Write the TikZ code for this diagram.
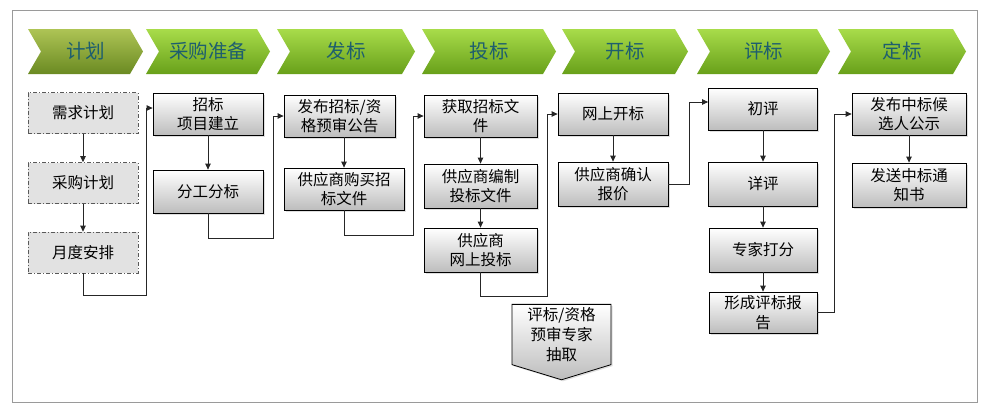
\documentclass[tikz,border=0pt]{standalone}
\usepackage{fontspec}
\newfontfamily\cjk{Noto Sans CJK SC}
\usetikzlibrary{arrows.meta, shapes.symbols, shadows}
\definecolor{stagetop}{HTML}{A8DC4A}
\definecolor{stagemid}{HTML}{8CCB2E}
\definecolor{stagebot}{HTML}{68A01A}
\definecolor{olivetop}{HTML}{AEC455}
\definecolor{olivemid}{HTML}{93AE3C}
\definecolor{olivebot}{HTML}{6A8A22}
\definecolor{stagetext}{HTML}{1E5E6E}
\definecolor{boxbot}{HTML}{BDBDBD}
\definecolor{dashfill}{HTML}{E2E2E2}
\definecolor{framecol}{HTML}{9A9A9A}

\begin{document}
\begin{tikzpicture}[x=1pt, y=-1pt,
stage/.style={signal, signal from=west, signal to=east, signal pointer angle=120, inner sep=0pt, minimum height=45pt, top color=stagetop, middle color=stagemid, bottom color=stagebot, text=stagetext, font=\cjk\fontsize{19.5}{22}\selectfont},
firststage/.style={top color=olivetop, middle color=olivemid, bottom color=olivebot},
box/.style={rectangle, draw=black, line width=0.8pt, top color=white, bottom color=boxbot, inner sep=1pt, align=center, font=\cjk\fontsize{15.5}{19.5}\selectfont, drop shadow={shadow xshift=1.5pt, shadow yshift=-1.5pt, opacity=0.25}},
planbox/.style={rectangle, draw=black!65, line width=0.7pt, dash pattern=on 4pt off 2pt on 1pt off 2pt, fill=dashfill, align=center, font=\cjk\fontsize{15.5}{19.5}\selectfont, minimum width=110pt, minimum height=41pt},
conn/.style={draw=black!85, line width=0.8pt, -{Triangle[length=6pt, width=5.5pt]}}
]
\path[use as bounding box] (0,0) rectangle (995,416);
\draw[framecol, line width=0.8pt] (12,10) rectangle (977,402);

% stages
\node[stage, firststage, minimum width=115pt] (st1) at (85.5,51.5) {计划};
\node[stage, minimum width=124pt] (st2) at (208,51.5) {采购准备};
\node[stage, minimum width=138pt] (st3) at (346,51.5) {发标};
\node[stage, minimum width=134pt] (st4) at (489,51.5) {投标};
\node[stage, minimum width=126pt] (st5) at (625,51.5) {开标};
\node[stage, minimum width=133pt] (st6) at (763.5,51.5) {评标};
\node[stage, minimum width=128pt] (st7) at (902,51.5) {定标};

% plan
\node[planbox] (plan1) at (83,113) {需求计划};
\node[planbox] (plan2) at (83,183) {采购计划};
\node[planbox] (plan3) at (83,252.5) {月度安排};
% prepare
\node[box, minimum width=110pt, minimum height=42pt] (prep1) at (208,114) {招标\\项目建立};
\node[box, minimum width=110pt, minimum height=43pt] (prep2) at (208,191.5) {分工分标};
% publish
\node[box, minimum width=111pt, minimum height=42pt] (pub1) at (339.5,116) {发布招标/资\\格预审公告};
\node[box, minimum width=120pt, minimum height=42pt] (pub2) at (344,189) {供应商购买招\\标文件};
% bid
\node[box, minimum width=113pt, minimum height=42pt] (bid1) at (480.5,116) {获取招标文\\件};
\node[box, minimum width=113pt, minimum height=44pt] (bid2) at (480.5,186) {供应商编制\\投标文件};
\node[box, minimum width=113pt, minimum height=44pt] (bid3) at (480.5,250) {供应商\\网上投标};
\node[box, signal, signal to=south, signal pointer angle=146, inner sep=3pt, minimum width=99pt, minimum height=66pt, font=\cjk\fontsize{15.5}{20}\selectfont] (expert) at (561.5,334.5) {评标/资格\\预审专家\\抽取};
% open
\node[box, minimum width=110pt, minimum height=42pt] (open1) at (613,114) {网上开标};
\node[box, minimum width=110pt, minimum height=44pt] (open2) at (613,184) {供应商确认\\报价};
% evaluate
\node[box, minimum width=109pt, minimum height=42pt] (eval1) at (763,109) {初评};
\node[box, minimum width=109pt, minimum height=44pt] (eval2) at (763,184) {详评};
\node[box, minimum width=108pt, minimum height=44pt] (eval3) at (763,250) {专家打分};
\node[box, minimum width=108pt, minimum height=41pt] (eval4) at (763,312.5) {形成评标报\\告};
% award
\node[box, minimum width=114pt, minimum height=42pt] (award1) at (909,114) {发布中标候\\选人公示};
\node[box, minimum width=114pt, minimum height=44pt] (award2) at (909,185) {发送中标通\\知书};

% arrows inside columns
\draw[conn] (plan1) -- (plan2);
\draw[conn] (plan2) -- (plan3);
\draw[conn] (prep1) -- (prep2);
\draw[conn] (pub2.north |- pub1.south) -- (pub2.north);
\draw[conn] (bid1) -- (bid2);
\draw[conn] (bid2) -- (bid3);
\draw[conn] (open1) -- (open2);
\draw[conn] (eval1) -- (eval2);
\draw[conn] (eval2) -- (eval3);
\draw[conn] (eval3) -- (eval4);
\draw[conn] (award1) -- (award2);

% arrows between columns
\draw[conn] (plan3.south) -- +(0,22) -| ([xshift=-6pt, yshift=6pt]prep1.west) -- ([yshift=6pt]prep1.west);
\draw[conn] (prep2.south) -- +(0,25) -| ([xshift=-10pt]pub1.west) -- (pub1.west);
\draw[conn] (pub2.south) -- +(0,25) -| ([xshift=-10pt]bid1.west) -- (bid1.west);
\draw[conn] (bid3.south) -- +(0,24) -| ([xshift=-10pt]open1.west) -- (open1.west);
\draw[conn] (open2.east) -- +(21,0) |- ([yshift=7pt]eval1.west);
\draw[conn] (eval4.east) -- +(17,0) |- (award1.west);
\end{tikzpicture}
\end{document}
